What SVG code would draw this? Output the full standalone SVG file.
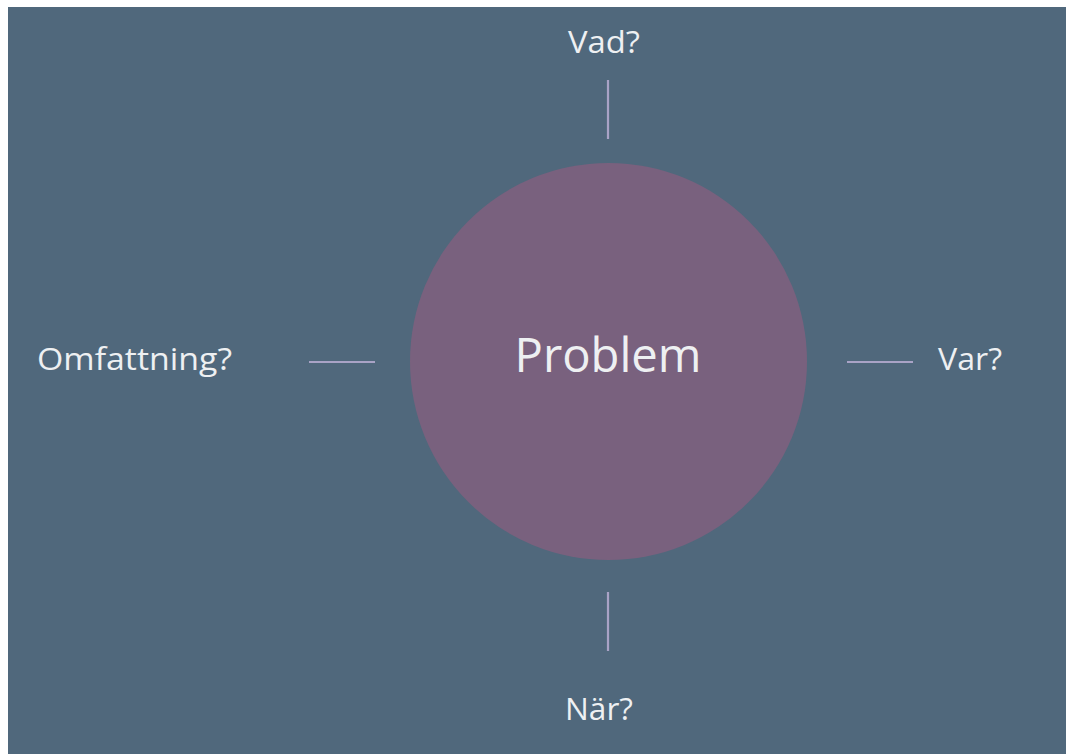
<svg xmlns="http://www.w3.org/2000/svg" width="1066" height="754" viewBox="0 0 1066 754">
  <style>
    .lbl { font-family: "Open Sans", "Noto Sans", "Liberation Sans", sans-serif; fill: #eef0f2; font-size: 31px; }
    .conn { stroke: #a9a3c6; stroke-width: 2.2; fill: none; stroke-linecap: butt; }
  </style>
  <rect x="0" y="0" width="1066" height="754" fill="#ffffff"/>
  <rect x="8" y="7" width="1058" height="747" fill="#50687c"/>
  <g id="connectors">
    <line class="conn" x1="608" y1="80" x2="608" y2="139"/>
    <line class="conn" x1="608" y1="592" x2="608" y2="651"/>
    <line class="conn" x1="309" y1="362" x2="375" y2="362"/>
    <line class="conn" x1="847" y1="362" x2="913" y2="362"/>
  </g>
  <g id="problem">
    <circle cx="608.5" cy="361.5" r="198.5" fill="#79617e"/>
    <text class="lbl" x="608" y="372" text-anchor="middle" style="font-size:48px" textLength="187" lengthAdjust="spacingAndGlyphs">Problem</text>
  </g>
  <g id="vad">
    <text class="lbl" x="604" y="53" text-anchor="middle" textLength="72" lengthAdjust="spacingAndGlyphs">Vad?</text>
  </g>
  <g id="omfattning">
    <text class="lbl" x="37" y="370" textLength="195" lengthAdjust="spacingAndGlyphs">Omfattning?</text>
  </g>
  <g id="var">
    <text class="lbl" x="938" y="370" textLength="64" lengthAdjust="spacingAndGlyphs">Var?</text>
  </g>
  <g id="nar">
    <text class="lbl" x="599" y="720" text-anchor="middle" textLength="68" lengthAdjust="spacingAndGlyphs">När?</text>
  </g>
</svg>
